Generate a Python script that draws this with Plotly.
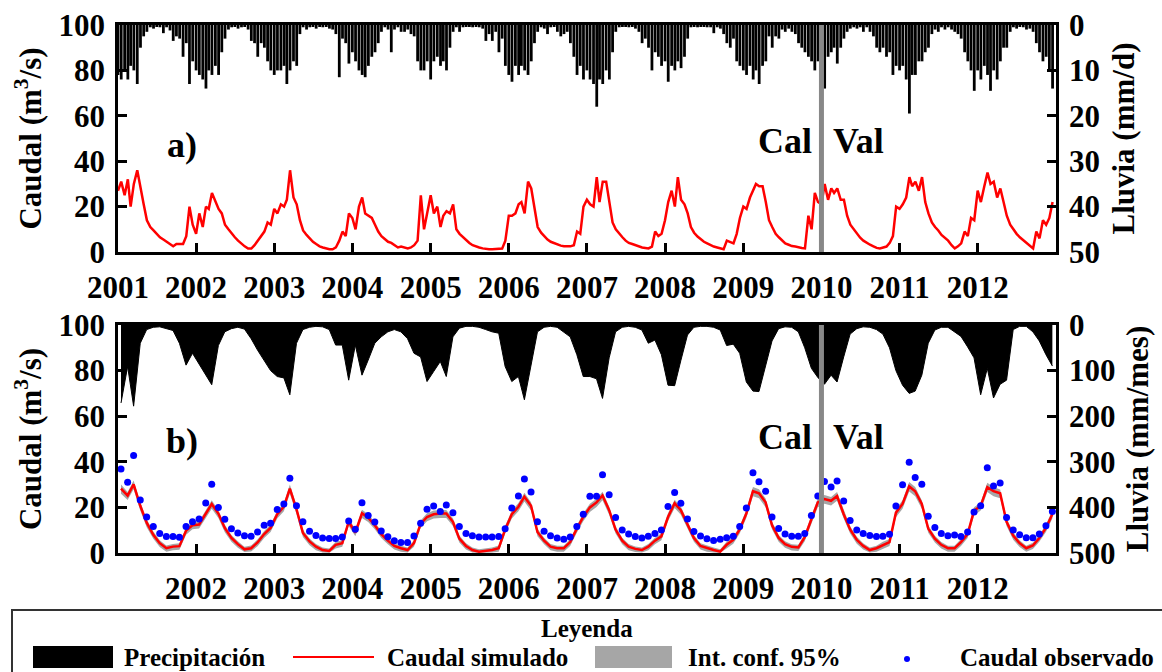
import pandas as pd
import plotly.graph_objects as go

# ---------------- DATA ----------------
years = list(range(2001, 2013))

# Top panel (a): flow and rainfall sampled twice per month (1st and 16th)
flow_daily = [
    27, 31, 25, 32, 20, 30, 36, 28, 21, 14, 11, 9.5, 8, 6.5, 5.5, 4.5, 3.5, 2.5, 3.5, 3.5, 3.5, 7, 20, 12,
    8, 17, 11, 20, 19, 26, 22, 19, 17, 12, 10, 8, 6.5, 5, 3.5, 2.5, 1.5, 1.5, 3, 5, 7, 9, 13, 12,
    19, 17, 21, 20, 23, 36, 24, 21, 14, 9.5, 7.5, 6, 4.5, 3.5, 2.5, 2, 1.5, 1.2, 1.2, 2, 5, 9, 7, 17,
    15, 10, 20, 24, 17, 16, 15, 12, 9, 7, 5.5, 4.5, 4, 3, 2, 2.4, 2, 1.6, 2, 3, 5, 25, 10, 17,
    25, 17, 20, 11, 16, 18, 17, 21, 10, 8, 6.5, 5, 4, 3, 2.4, 2, 1.6, 1.3, 1.2, 1.2, 1.2, 1.5, 1.5, 5,
    16, 16, 17, 21, 22, 17, 31, 28, 19, 11, 8.5, 6.8, 5.5, 4.5, 3.8, 3.2, 2.8, 2.5, 2.4, 2.5, 3, 9, 8, 20,
    23, 21, 20, 33, 22, 31, 31, 22, 13, 10, 8, 6.5, 5, 4, 3.5, 3, 2.4, 2, 1.8, 1.6, 2.4, 9, 7, 8,
    14, 22, 27, 20, 33, 23, 21, 17, 11, 8.5, 6.8, 5.5, 4.5, 3.8, 3, 2.4, 2, 1.5, 1.2, 5, 4.5, 3.8, 8, 15,
    20, 19, 24, 27, 30, 29, 29, 22, 14, 11, 8, 6.5, 5, 3.8, 3.2, 2.6, 2.4, 2, 1.8, 1.6, 16, 10, 26, 22,
    21, 30, 23, 28, 26, 28, 23, 23, 16, 12, 10, 8, 6.3, 5, 4, 3.2, 2.5, 1.8, 1.6, 2, 2.4, 4, 7, 20,
    19, 21, 24, 33, 29, 31, 27, 33, 22, 17, 13, 11, 9.5, 7.5, 6, 5, 3, 1.6, 2.5, 3.8, 9, 7, 15, 14,
    27, 22, 29, 35, 30, 31, 24, 28, 22, 16, 12, 9.7, 8, 6.5, 5.3, 4, 2.8, 1.6, 9, 6, 14, 12, 15, 22,
]
rain_daily = [
    11, 12, 10, 12, 9, 10, 13, 5, 2.5, 1.5, 0.5, 0.8, 0.3, 0.5, 1.8, 0.5, 1.2, 3.5, 2.5, 3, 7, 4, 13, 8,
    10, 11, 12, 14, 10, 11, 9, 11, 6, 3, 1, 0.5, 0.3, 0.8, 0.5, 0.3, 1, 3.5, 4, 7, 4, 5, 8, 10,
    11, 10, 10, 9, 13, 10, 8, 9, 2, 0.5, 1, 0.5, 0.3, 0.8, 0.3, 0.5, 0.3, 0.8, 1, 2, 11.5, 3, 4, 8.5,
    6, 8, 10, 11, 11.5, 9, 7, 6, 4, 1.5, 0.5, 1, 6, 1, 0.5, 1.5, 1.5, 1, 2, 2.5, 8, 10, 10, 8,
    12, 8, 7, 9, 8, 10, 5, 1.5, 0.5, 1.5, 0.5, 0.3, 0.3, 0.5, 0.3, 0.5, 0.8, 3.5, 2, 3.5, 1.5, 6, 3, 9,
    11, 12.5, 9, 11, 9, 10, 11, 8, 4, 1.5, 0.5, 0.8, 2, 0.5, 0.3, 1.5, 2.5, 2, 1.5, 4, 7, 11, 9, 12,
    10, 12, 13, 18, 12, 13, 10, 12, 6, 1.5, 0.5, 0.3, 0.3, 0.5, 0.3, 0.8, 1.5, 4, 3, 5, 10, 6, 7, 9,
    8, 12.5, 9, 10, 8, 9.5, 7, 3, 0.5, 0.3, 0.5, 0.3, 0.3, 0.5, 0.5, 1.8, 0.5, 0.8, 2, 4, 5, 3, 8, 9,
    10, 11, 9, 12, 10, 13, 9, 8, 2.5, 5, 2.5, 3, 1, 1.5, 0.8, 1.5, 2, 4, 5, 6, 7, 8, 10, 8,
    10, 14, 7, 6, 5, 8.5, 5, 3, 1.5, 0.8, 0.5, 0.8, 0.5, 1.5, 0.5, 1.5, 2.5, 5, 6, 5, 7, 6, 11, 9,
    10, 9, 12, 19.5, 11, 11, 8, 8, 6, 5, 2, 1, 1.5, 0.5, 1, 0.5, 1, 1.5, 2, 3, 6, 8, 10, 14.5,
    10, 12, 9, 11, 14.5, 10, 12, 8, 5, 5, 1.5, 0.5, 0.8, 0.3, 0.5, 1, 0.8, 1.5, 4, 6, 8, 7, 10, 14,
]

# Bottom panel (b): monthly values
flow_sim = [
    28.2, 25.2, 30.1, 20.7, 13.3, 8.0, 4.3, 2.1, 2.8, 3.0, 9.8, 12.2,
    12.5, 17.0, 21.5, 17.3, 11.0, 6.6, 3.9, 1.6, 2.1, 4.6, 8.3, 11.0,
    17.0, 20.3, 28.2, 19.2, 8.8, 5.1, 2.8, 1.3, 0.9, 3.6, 4.3, 13.7,
    9.0, 17.4, 15.5, 12.2, 8.3, 5.4, 3.1, 2.1, 1.3, 4.3, 12.8, 15.8,
    17.0, 17.3, 17.3, 13.7, 6.3, 3.1, 1.3, 0.6, 1.0, 1.3, 2.1, 10.3,
    17.0, 20.3, 24.7, 20.7, 9.2, 5.4, 2.8, 2.1, 2.1, 4.8, 10.7, 15.8,
    20.0, 22.2, 25.2, 18.8, 10.3, 5.4, 2.8, 1.8, 1.3, 2.8, 5.4, 7.3,
    15.8, 21.8, 18.8, 12.5, 6.6, 3.1, 2.1, 1.3, 0.6, 3.6, 5.8, 10.3,
    17.3, 27.1, 26.2, 22.2, 12.2, 6.6, 3.9, 2.7, 2.4, 6.9, 14.8, 22.2,
    23.7, 22.9, 25.0, 17.0, 10.3, 5.8, 3.1, 1.3, 2.1, 3.6, 4.8, 17.7,
    21.5, 29.2, 27.1, 21.5, 10.7, 6.3, 3.6, 2.1, 2.1, 4.8, 8.3, 18.5,
    20.7, 28.9, 27.1, 26.2, 13.7, 7.6, 4.3, 2.1, 3.3, 6.6, 11.0, 17.0,
]
ci_low = [
    26.0, 23.2, 28.0, 18.6, 11.3, 6.2, 2.6, 0.6, 1.2, 1.4, 8.0, 10.4,
    10.7, 15.1, 19.4, 15.3, 9.1, 4.9, 2.3, 0.4, 0.7, 3.0, 6.6, 9.2,
    15.1, 18.3, 26.0, 17.1, 7.0, 3.4, 1.2, 0.2, 0.1, 2.0, 2.7, 11.8,
    7.3, 15.4, 13.6, 10.4, 6.6, 3.8, 1.5, 0.6, 0.2, 2.7, 11.0, 13.9,
    15.1, 15.4, 15.4, 11.8, 4.6, 1.5, 0.2, 0.1, 0.1, 0.2, 0.6, 8.5,
    15.1, 18.3, 22.6, 18.6, 7.4, 3.8, 1.2, 0.6, 0.6, 3.1, 8.9, 13.9,
    18.0, 20.2, 23.1, 16.8, 8.5, 3.8, 1.2, 0.4, 0.2, 1.2, 3.8, 5.6,
    13.9, 19.7, 16.8, 10.7, 4.9, 1.5, 0.6, 0.2, 0.1, 2.0, 4.1, 8.5,
    15.4, 24.9, 24.0, 20.1, 10.4, 4.9, 2.3, 1.1, 0.9, 5.2, 12.9, 20.1,
    21.6, 20.8, 22.9, 15.1, 8.5, 4.1, 1.5, 0.2, 0.6, 2.0, 3.1, 15.7,
    19.4, 27.0, 24.9, 19.4, 8.9, 4.6, 2.0, 0.6, 0.6, 3.1, 6.6, 16.5,
    18.6, 26.7, 24.9, 24.0, 11.8, 5.8, 2.6, 0.6, 1.7, 4.9, 9.2, 15.1,
]
ci_high = [
    30.0, 26.8, 31.8, 22.3, 14.8, 9.4, 5.6, 3.3, 4.0, 4.3, 11.2, 13.6,
    13.9, 18.5, 23.1, 18.8, 12.4, 7.9, 5.1, 2.7, 3.3, 5.9, 9.7, 12.5,
    18.5, 21.9, 30.0, 20.8, 10.2, 6.4, 4.0, 2.4, 2.0, 4.9, 5.6, 15.2,
    10.4, 19.0, 17.0, 13.6, 9.6, 6.7, 4.3, 3.2, 2.4, 5.6, 14.3, 17.4,
    18.6, 18.9, 18.9, 15.2, 7.7, 4.3, 2.4, 1.6, 2.0, 2.4, 3.3, 11.8,
    18.6, 21.9, 26.4, 22.3, 10.6, 6.7, 4.0, 3.2, 3.2, 6.1, 12.1, 17.4,
    21.6, 23.8, 26.9, 20.4, 11.7, 6.7, 4.0, 2.9, 2.4, 4.0, 6.7, 8.7,
    17.4, 23.4, 20.4, 13.9, 7.9, 4.3, 3.2, 2.4, 1.6, 4.9, 7.1, 11.7,
    18.9, 28.9, 28.0, 23.9, 13.7, 7.9, 5.1, 3.8, 3.6, 8.3, 16.4, 23.9,
    25.4, 24.6, 26.7, 18.6, 11.7, 7.1, 4.3, 2.4, 3.2, 4.9, 6.1, 19.3,
    23.1, 31.1, 28.9, 23.1, 12.1, 7.6, 4.8, 3.2, 3.2, 6.1, 9.7, 20.1,
    22.3, 30.8, 28.9, 27.9, 15.2, 9.0, 5.6, 3.2, 4.5, 7.9, 12.5, 18.6,
]
flow_obs = [
    36.8, 31.0, 42.8, 23.2, 15.8, 11.6, 8.6, 7.2, 7.2, 6.9, 11.6, 13.7,
    14.9, 21.9, 30.1, 20.0, 14.8, 10.6, 8.8, 7.6, 7.3, 9.2, 12.2, 13.1,
    19.1, 21.5, 32.8, 20.7, 13.7, 9.5, 7.7, 6.6, 6.4, 6.4, 7.0, 14.0,
    10.4, 22.0, 16.5, 13.6, 9.7, 7.1, 5.4, 4.6, 4.6, 7.5, 13.1, 19.2,
    20.6, 18.2, 21.0, 17.7, 11.6, 8.6, 7.6, 7.0, 7.0, 7.0, 7.2, 10.6,
    19.7, 25.0, 32.5, 26.8, 13.7, 9.5, 7.6, 6.6, 6.0, 7.0, 11.6, 17.0,
    24.9, 24.9, 34.3, 25.5, 15.6, 10.1, 8.3, 7.2, 6.6, 7.3, 8.6, 10.1,
    20.4, 26.5, 21.8, 14.9, 9.4, 7.5, 6.3, 5.5, 6.0, 6.7, 7.3, 11.6,
    19.7, 35.2, 31.3, 27.1, 15.8, 10.7, 8.3, 7.3, 7.3, 8.6, 16.4, 25.0,
    31.4, 28.9, 31.6, 22.8, 14.3, 10.1, 8.5, 7.7, 7.2, 7.3, 8.2, 20.6,
    29.9, 39.8, 33.1, 30.2, 16.1, 11.2, 8.6, 7.6, 7.9, 7.2, 9.2, 18.0,
    20.7, 37.4, 29.4, 30.7, 15.6, 10.1, 8.0, 6.7, 6.7, 8.3, 11.9, 18.2,
]
rain_monthly = [
    171, 91, 178, 40, 10, 5, 4, 8, 12, 40, 88, 62,
    85, 110, 131, 45, 15, 8, 5, 9, 30, 55, 78, 100,
    113, 116, 153, 40, 10, 5, 3, 4, 10, 44, 44, 121,
    44, 110, 77, 40, 26, 15, 10, 15, 30, 62, 70, 124,
    102, 80, 113, 26, 7, 3, 3, 5, 10, 15, 18, 91,
    124, 113, 164, 91, 15, 5, 3, 5, 15, 26, 65, 113,
    113, 118, 161, 72, 15, 5, 3, 5, 11, 40, 33, 65,
    132, 133, 78, 22, 5, 3, 3, 5, 11, 45, 42, 62,
    125, 145, 146, 90, 35, 8, 4, 5, 15, 50, 95, 115,
    130, 110, 125, 70, 20, 8, 4, 5, 10, 20, 50, 100,
    132, 150, 145, 110, 40, 11, 5, 5, 15, 25, 48, 72,
    153, 95, 160, 130, 121, 10, 3, 3, 15, 35, 65, 90,
]

top_year_labels = [str(y) for y in years]            # 2001 .. 2012
bottom_year_labels = [str(y) for y in years[1:]]     # 2002 .. 2012
split_date = "2010-01-01"

# ---------------- DATES ----------------
half_month_dates = [pd.Timestamp(y, m, d) for y in years for m in range(1, 13) for d in (1, 16)]
month_dates = [pd.Timestamp(y, m, 15) for y in years for m in range(1, 13)]

# ---------------- STYLE ----------------
FONT = "Liberation Serif"
W, H = 1162, 672
ML, MR = 118, 1162 - 1056          # plot area from x=118 to x=1056 px
PW = W - ML - MR

def px(xp):                          # page pixel -> paper x
    return (xp - ML) / PW
def py(yp):                          # page pixel -> paper y
    return 1 - yp / H

tickfont = dict(family=FONT, size=31, color="black", weight="bold")
titlefont = dict(family=FONT, size=31, color="black", weight="bold")
axis_common = dict(showline=True, linecolor="black", linewidth=2.5, showgrid=False,
                   zeroline=False, ticks="inside", ticklen=9, tickwidth=2.5,
                   tickcolor="black", tickfont=tickfont, automargin=False)

top_dom = [py(252), py(25)]
bot_dom = [py(553), py(325)]

fig = go.Figure()

# --- Panel a ---
fig.add_trace(go.Bar(x=half_month_dates, y=rain_daily, xaxis="x", yaxis="y2",
                     marker=dict(color="black", line=dict(width=0)),
                     width=13 * 86400000, showlegend=False, name="Precipitación"))
fig.add_trace(go.Scatter(x=half_month_dates, y=flow_daily, xaxis="x", yaxis="y",
                         mode="lines", line=dict(color="#ff0000", width=2.5),
                         showlegend=False, name="Caudal simulado"))

# --- Panel b ---
fig.add_trace(go.Scatter(x=month_dates, y=rain_monthly, xaxis="x2", yaxis="y4",
                         mode="lines", fill="tozeroy", fillcolor="black",
                         line=dict(color="black", width=1), showlegend=False,
                         name="Precipitación"))
fig.add_trace(go.Scatter(x=month_dates, y=ci_low, xaxis="x2", yaxis="y3",
                         mode="lines", line=dict(width=0, color="#a6a6a6"),
                         showlegend=False, name="IC inf"))
fig.add_trace(go.Scatter(x=month_dates, y=ci_high, xaxis="x2", yaxis="y3",
                         mode="lines", line=dict(width=0, color="#a6a6a6"),
                         fill="tonexty", fillcolor="#a6a6a6",
                         showlegend=False, name="Int. conf. 95%"))
fig.add_trace(go.Scatter(x=month_dates, y=flow_sim, xaxis="x2", yaxis="y3",
                         mode="lines", line=dict(color="#ff0000", width=2.5),
                         showlegend=False, name="Caudal simulado"))
fig.add_trace(go.Scatter(x=month_dates, y=flow_obs, xaxis="x2", yaxis="y3",
                         mode="markers", marker=dict(color="#0000ff", size=7),
                         showlegend=False, name="Caudal observado"))

fig.update_layout(
    width=W, height=H, margin=dict(l=ML, r=MR, t=0, b=0, autoexpand=False),
    paper_bgcolor="white", plot_bgcolor="white",
    xaxis=dict(domain=[0, 1], anchor="y", range=["2001-01-01", "2013-01-01"],
               tickvals=[f"{y}-01-01" for y in years], ticktext=top_year_labels,
               mirror=True, ticklabelstandoff=6, **axis_common),
    yaxis=dict(domain=top_dom, anchor="x", range=[0, 100], tickvals=[0, 20, 40, 60, 80, 100],
               mirror=True, ticklabelstandoff=4,
               title=dict(text="Caudal (m<sup>3</sup>/s)", font=titlefont, standoff=8),
               **axis_common),
    yaxis2=dict(overlaying="y", anchor="x", side="right", range=[50, 0],
                tickvals=[0, 10, 20, 30, 40, 50], ticklabelstandoff=4,
                title=dict(text="Lluvia (mm/d)", font=titlefont, standoff=14),
                **axis_common),
    xaxis2=dict(domain=[0, 1], anchor="y3", range=["2001-01-01", "2013-01-01"],
                tickvals=[f"{y}-01-01" for y in years[1:]], ticktext=bottom_year_labels,
                mirror=True, ticklabelstandoff=6, **axis_common),
    yaxis3=dict(domain=bot_dom, anchor="x2", range=[0, 100], tickvals=[0, 20, 40, 60, 80, 100],
                mirror=True, ticklabelstandoff=4,
                title=dict(text="Caudal (m<sup>3</sup>/s)", font=titlefont, standoff=8),
                **axis_common),
    yaxis4=dict(overlaying="y3", anchor="x2", side="right", range=[500, 0],
                tickvals=[0, 100, 200, 300, 400, 500], ticklabelstandoff=4,
                title=dict(text="Lluvia (mm/mes)", font=titlefont, standoff=12),
                **axis_common),
)

# Cal / Val separators
for xr, yr in (("x", "y domain"), ("x2", "y3 domain")):
    fig.add_shape(type="line", xref=xr, yref=yr, x0=split_date, x1=split_date, y0=0, y1=1,
                  line=dict(color="#888888", width=5))

lab = dict(family=FONT, size=36, color="black", weight="bold")
for xr, yr, letter, yv in (("x", "y", "a)", 47), ("x2", "y3", "b)", 49)):
    fig.add_annotation(x="2001-10-25", y=yv, xref=xr, yref=yr, text=letter,
                       showarrow=False, font=lab)
    fig.add_annotation(x=split_date, y=yv + 2, xref=xr, yref=yr, text="Cal",
                       showarrow=False, font=lab, xanchor="right", xshift=-7)
    fig.add_annotation(x=split_date, y=yv + 2, xref=xr, yref=yr, text="Val",
                       showarrow=False, font=lab, xanchor="left", xshift=10)

# ---------------- LEGEND (drawn box) ----------------
legfont = dict(family=FONT, size=25, color="black", weight="bold")
fig.add_shape(type="rect", xref="paper", yref="paper", x0=px(12), x1=px(1175),
              y0=py(690), y1=py(610), line=dict(color="#333333", width=2), fillcolor="white",
              layer="below")
fig.add_annotation(xref="paper", yref="paper", x=px(587), y=py(628), text="Leyenda",
                   showarrow=False, font=legfont, xanchor="center", yanchor="middle")
ly = 657
fig.add_shape(type="rect", xref="paper", yref="paper", x0=px(33), x1=px(113),
              y0=py(668), y1=py(646), fillcolor="black", line=dict(width=0))
fig.add_annotation(xref="paper", yref="paper", x=px(122), y=py(ly), text="Precipitación",
                   showarrow=False, font=legfont, xanchor="left", yanchor="middle")
fig.add_shape(type="line", xref="paper", yref="paper", x0=px(293), x1=px(374),
              y0=py(ly), y1=py(ly), line=dict(color="#ff0000", width=2))
fig.add_annotation(xref="paper", yref="paper", x=px(385), y=py(ly), text="Caudal simulado",
                   showarrow=False, font=legfont, xanchor="left", yanchor="middle")
fig.add_shape(type="rect", xref="paper", yref="paper", x0=px(595), x1=px(672),
              y0=py(668), y1=py(646), fillcolor="#a6a6a6", line=dict(width=0))
fig.add_annotation(xref="paper", yref="paper", x=px(686), y=py(ly), text="Int. conf. 95%",
                   showarrow=False, font=legfont, xanchor="left", yanchor="middle")
fig.add_shape(type="circle", xref="paper", yref="paper", x0=px(904), x1=px(910),
              y0=py(662), y1=py(656), fillcolor="#0000ff", line=dict(width=0))
fig.add_annotation(xref="paper", yref="paper", x=px(958), y=py(ly), text="Caudal observado",
                   showarrow=False, font=legfont, xanchor="left", yanchor="middle")

fig.write_html("out.html")
